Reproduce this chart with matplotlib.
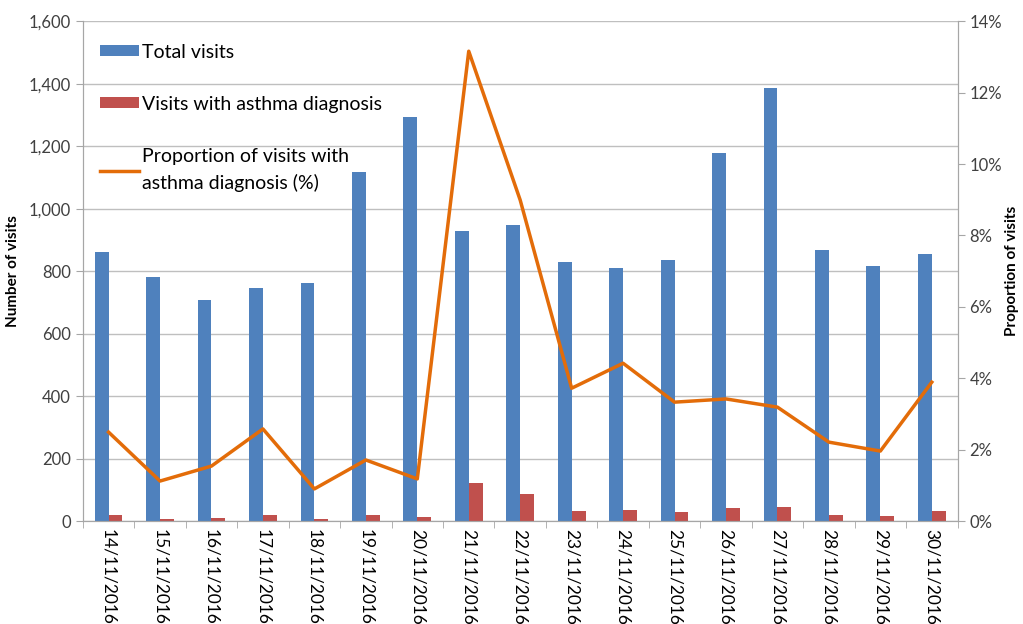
import matplotlib
matplotlib.use("Agg")
import matplotlib.pyplot as plt
from matplotlib.ticker import FuncFormatter, MultipleLocator
import numpy as np

dates = ['14/11/2016', '15/11/2016', '16/11/2016', '17/11/2016', '18/11/2016',
         '19/11/2016', '20/11/2016', '21/11/2016', '22/11/2016', '23/11/2016',
         '24/11/2016', '25/11/2016', '26/11/2016', '27/11/2016', '28/11/2016',
         '29/11/2016', '30/11/2016']
total_visits = [861, 781, 707, 746, 762, 1117, 1293, 928, 947, 829,
                810, 835, 1178, 1386, 867, 816, 854]
asthma_visits = [20, 8, 10, 20, 7, 19, 14, 122, 85, 31,
                 36, 28, 41, 44, 19, 16, 33]
proportion = [2.49, 1.12, 1.54, 2.58, 0.90, 1.71, 1.18, 13.16, 8.99, 3.72,
              4.42, 3.33, 3.42, 3.19, 2.21, 1.96, 3.89]

plt.rcParams['font.family'] = ['Lato', 'DejaVu Sans']

fig = plt.figure(figsize=(10.23, 6.24), dpi=100)
ax = fig.add_axes([0.081, 0.165, 0.855, 0.801])
ax2 = ax.twinx()

x = np.arange(len(dates))
w = 0.27
blue = '#4f81bd'
red = '#c0504d'
orange = '#e36c09'
grey = '#a6a6a6'

ax.bar(x - w / 2, total_visits, width=w, color=blue, label='Total visits', zorder=2)
ax.bar(x + w / 2, asthma_visits, width=w, color=red,
       label='Visits with asthma diagnosis', zorder=2)
ax2.plot(x, proportion, color=orange, lw=2.5,
         label='Proportion of visits with\nasthma diagnosis (%)')

ax.set_xlim(-0.5, len(dates) - 0.5)
ax.set_ylim(0, 1600)
ax2.set_ylim(0, 14)
ax.yaxis.set_major_locator(MultipleLocator(200))
ax.yaxis.set_major_formatter(FuncFormatter(lambda v, p: f'{int(v):,}'))
ax2.yaxis.set_major_locator(MultipleLocator(2))
ax2.yaxis.set_major_formatter(FuncFormatter(lambda v, p: f'{int(v)}%'))

ax.grid(axis='y', color='#bfbfbf', lw=1, zorder=0)
ax.set_axisbelow(True)

ax.set_xticks(x)
ax.set_xticklabels(dates, rotation=270, fontsize=12.5, va='top', ha='center')
ax.set_xticks(np.arange(-0.5, len(dates)), minor=True)
ax.tick_params(axis='x', which='major', length=0, pad=6)
ax.tick_params(axis='x', which='minor', length=5, color=grey)
ax.tick_params(axis='y', labelsize=12, length=5, color=grey, labelcolor='#404040')
ax2.tick_params(axis='y', labelsize=12, length=5, color=grey, labelcolor='#404040')

for a in (ax, ax2):
    a.spines['top'].set_visible(False)
    for s in ('left', 'right', 'bottom'):
        a.spines[s].set_color(grey)

ax.set_ylabel('Number of visits', fontsize=11, fontweight='bold', labelpad=6)
ax2.set_ylabel('Proportion of visits', fontsize=11, fontweight='bold', labelpad=2)

h1, l1 = ax.get_legend_handles_labels()
h2, l2 = ax2.get_legend_handles_labels()
leg = ax2.legend(h1 + h2, l1 + l2, loc='upper left', bbox_to_anchor=(0.0, 0.99),
                 frameon=False, fontsize=14, labelspacing=1.8,
                 handlelength=2.0, handletextpad=0.15, handleheight=0.5)
leg.get_texts()[2].set_linespacing(1.6)

fig.savefig('out.png', dpi=100)
